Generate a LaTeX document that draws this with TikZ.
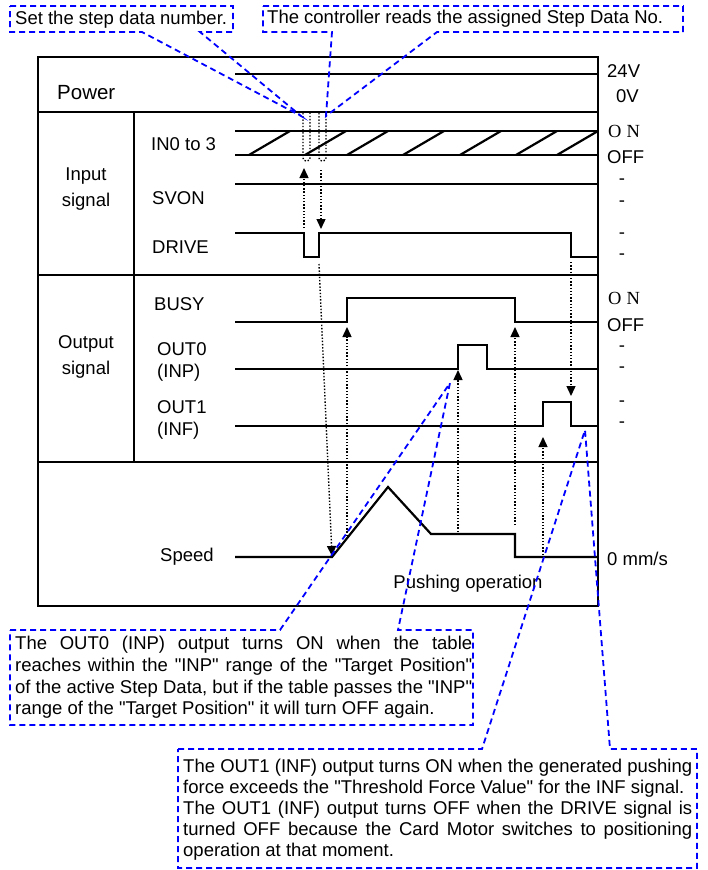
\documentclass[tikz,border=0pt]{standalone}
\usepackage{fontspec}
\setmainfont{Liberation Sans}[Ligatures=TeXOff]
\newfontfamily\onfont{Liberation Serif}
\usetikzlibrary{arrows.meta}
\begin{document}
\begin{tikzpicture}[x=1pt,y=-1pt,font=\fontsize{18.5}{21.7}\selectfont,
  every node/.style={inner sep=0pt},
  sig/.style={line width=2.2pt},
  frame/.style={line width=1.6pt},
  dots/.style={line width=1.4pt,dash pattern=on 1.4pt off 1.8pt},
  dotarrow/.style={dots,-{Triangle[length=10pt,width=9pt]}},
  note/.style={draw=blue,line width=1.8pt,dash pattern=on 6pt off 4pt}]
  \useasboundingbox (0,0) rectangle (707,870);
  \draw[frame] (38,57) rectangle (598,606);
  \draw[frame] (38,112) -- (598,112) (38,275) -- (598,275) (38,462) -- (598,462);
  \draw[frame] (134,112) -- (134,462);
  \node[anchor=west,font=\fontsize{20.5}{24}\selectfont] (power) at (57,93) {Power};
  \node[align=center] (insig) at (86,189) {Input\\[4pt]signal};
  \node[align=center] (outsig) at (86,357) {Output\\[4pt]signal};
  \node[anchor=west] (in03) at (151,144) {IN0 to 3};
  \node[anchor=west] (svon) at (152,198) {SVON};
  \node[anchor=west] (drive) at (152,247) {DRIVE};
  \node[anchor=west] (busy) at (154,304) {BUSY};
  \node[anchor=west,align=left] (out0) at (157,362) {OUT0\\(INP)};
  \node[anchor=west,align=left] (out1) at (157,420) {OUT1\\(INF)};
  \node[anchor=west] (speed) at (160,557) {Speed};
  \node[anchor=west] (v24) at (607,71) {24V};
  \node[anchor=west] (v0) at (616,96) {0V};
  \node[anchor=west] (inon) at (608,131) {\onfont O\hspace{5pt}N};
  \node[anchor=west] (inoff) at (607,157) {OFF};
  \node[anchor=west] (busyon) at (608,298) {\onfont O\hspace{5pt}N};
  \node[anchor=west] (busyoff) at (607,325) {OFF};
  \foreach \y/\n in {182/a,204/b,236/c,257/d,349/e,370/f,404/g,425/h}
    \node (dash\n) at (622,\y) {-};
  \node[anchor=west] (zero) at (607,559) {0 mm/s};
  \node (pushing) at (468,584) {Pushing operation};
  \draw[sig] (235,74) -- (598,74);
  \draw[sig] (235,131) -- (598,131) (235,155) -- (598,155);
  \foreach \x in {249,305,347,403,460,516,557}
    \draw[sig] (\x,155) -- ++(41,-24);
  \draw[sig] (235,184) -- (598,184);
  \draw[sig] (235,233) -- (304,233) -- (304,257) -- (319,257) -- (319,233)
    -- (571,233) -- (571,257) -- (598,257);
  \draw[sig] (235,322) -- (347,322) -- (347,298) -- (515,298) -- (515,322) -- (598,322);
  \draw[sig] (235,369) -- (458,369) -- (458,345) -- (487,345) -- (487,369) -- (598,369);
  \draw[sig] (235,426) -- (543,426) -- (543,402) -- (571,402) -- (571,426) -- (598,426);
  \draw[sig] (235,557) -- (332,557) -- (388,487) -- (431,534) -- (515,534)
    -- (515,557) -- (598,557);
  \draw[dots,rounded corners=3pt] (303,113) -- (303,161) -- (310,161) -- (310,113);
  \draw[dots,rounded corners=3pt] (319,113) -- (319,161) -- (326,161) -- (326,113);
  \draw[dotarrow] (304,228) -- (304,168);
  \draw[dotarrow] (321,170) -- (321,229);
  \draw[dotarrow] (319,264) -- (332,556);
  \draw[dotarrow] (347,536) -- (347,327);
  \draw[dotarrow] (458,532) -- (458,370);
  \draw[dotarrow] (515,525) -- (515,327);
  \draw[dotarrow] (571,262) -- (571,396);
  \draw[dotarrow] (543,555) -- (543,437);
  \node[anchor=west] (setno) at (15,20) {Set the step data number.};
  \node[anchor=west] (reads) at (267,19) {The controller reads the assigned Step Data No.};
  \node[anchor=north west,text width=457pt,align=justify] (inpnote) at (15,636)
    {The OUT0 (INP) output turns ON when the table\linebreak
     reaches within the "INP" range of the "Target Position"\linebreak
     of the active Step Data, but if the table passes the "INP"\linebreak
     range of the "Target Position" it will turn OFF again.};
  \node[anchor=north west,text width=509pt,align=justify,
    font=\fontsize{18.5}{21}\selectfont] (infnote) at (183,759)
    {The OUT1 (INF) output turns ON when the generated pushing\linebreak
     force exceeds the "Threshold Force Value" for the INF signal.\\
     The OUT1 (INF) output turns OFF when the DRIVE signal is\linebreak
     turned OFF because the Card Motor switches to positioning\linebreak
     operation at that moment.};
  \draw[note] (10,6) -- (233,6) -- (233,32) -- (200,32) -- (301,116) -- (142,32)
    -- (10,32) -- cycle;
  \draw[note] (263,6) -- (683,6) -- (683,32) -- (437,32) -- (326,116) -- (332,32)
    -- (263,32) -- cycle;
  \draw[note] (10,630) -- (280,630) -- (450,383) -- (398,630) -- (473,630)
    -- (473,725) -- (10,725) -- cycle;
  \draw[note] (178,749) -- (482,749) -- (585,430) -- (610,749) -- (697,749)
    -- (697,868) -- (178,868) -- cycle;
\end{tikzpicture}
\end{document}
